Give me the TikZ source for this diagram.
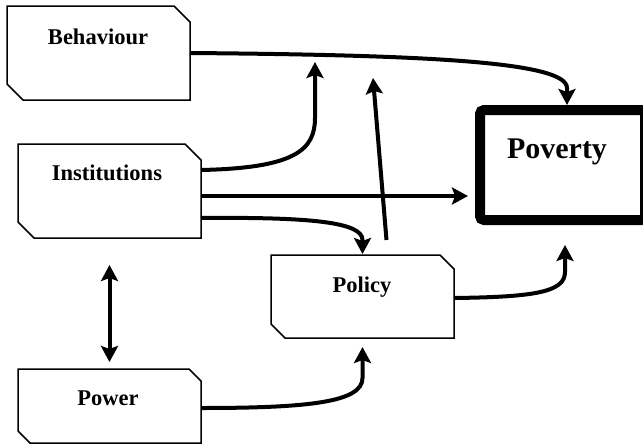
\documentclass[tikz,border=0pt]{standalone}
\usepackage{fontspec}
\setmainfont{Liberation Serif}
\usetikzlibrary{arrows.meta,calc}
\newcommand\chamferoutline[2]{%
  \draw[line width=1.5pt, line join=miter] (#1.north west) -- ([xshift=-#2]#1.north east) -- ([yshift=-#2]#1.north east)
    -- (#1.south east) -- ([xshift=#2]#1.south west) -- ([yshift=#2]#1.south west) -- cycle;}
\begin{document}
\begin{tikzpicture}[x=1pt,y=-1pt,
  cbox/.style={rectangle, inner sep=0pt, outer sep=0pt, minimum width=183pt},
  lbl/.style={font=\fontsize{22.5}{26}\selectfont\bfseries, inner sep=0pt},
  arr/.style={line width=4pt, -{Stealth[length=16pt,width=17pt,inset=3pt]}},
  darr/.style={line width=4pt, {Stealth[length=16pt,width=17pt,inset=3pt]}-{Stealth[length=16pt,width=17pt,inset=3pt]}}
]
\useasboundingbox (0,0) rectangle (643,445);
\fill[white] (0,0) rectangle (643,445);
% boxes
\node[cbox, minimum height=94pt] (beh) at (98.5,53) {};
\node[cbox, minimum height=94pt] (inst) at (109.5,191) {};
\node[cbox, minimum height=83pt] (pol) at (362.5,296.5) {};
\node[cbox, minimum height=74pt] (pow) at (109.5,406) {};
\chamferoutline{beh}{16pt}
\chamferoutline{inst}{16pt}
\chamferoutline{pol}{14pt}
\chamferoutline{pow}{12pt}
\node[draw, line width=10pt, rounded corners=4pt, minimum width=165pt, minimum height=110pt, inner sep=0pt, outer sep=5pt] (pov) at (562.5,165) {};
% labels
\node[lbl] (behT) at (98,37) {Behaviour};
\node[lbl] (instT) at (107,173) {Institutions};
\node[lbl] (polT) at (362,287) {Policy};
\node[lbl] (powT) at (108,398) {Power};
\node[font=\fontsize{30}{36}\selectfont\bfseries, inner sep=0pt] (povT) at (557,152) {Poverty};
% free ends
\coordinate (t2) at (315,62);
\coordinate (t5) at (373,78);
% connectors
\draw[arr] (beh.east) .. controls (430,55) and (567,62) .. (567,88) -- ([xshift=4.5pt]pov.north);
\draw[arr] ([yshift=21pt]inst.east) .. controls (295,168) and (315,150) .. (315,118) -- (t2);
\draw[arr] ([yshift=-5pt]inst.east) -- ([xshift=-7pt,yshift=-31pt]pov.west);
\draw[arr, shorten >=1pt] ([yshift=-27pt]inst.east) .. controls (310,217) and (362.5,222) .. (362.5,240) -- (pol.north);
\draw[arr] ([xshift=24pt,yshift=15pt]pol.north) -- (t5);
\draw[arr] ([yshift=-1.5pt]pol.east) .. controls (535,297) and (565,292) .. (565,272) -- ([xshift=2.5pt,yshift=-20pt]pov.south);
\draw[darr, shorten <=27pt, shorten >=7pt] (inst.south) -- (pow.north);
\draw[arr, shorten >=9pt] ([yshift=-2pt]pow.east) .. controls (310,408) and (362.5,402) .. (362.5,378) -- (pol.south);
\end{tikzpicture}
\end{document}
